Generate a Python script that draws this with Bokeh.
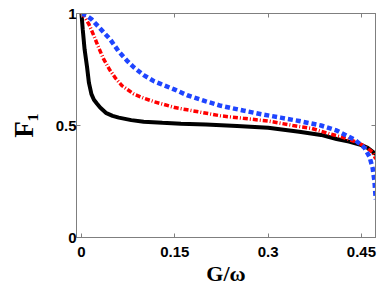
from bokeh.plotting import figure
from bokeh.models import Range1d, LinearAxis, FixedTicker
from bokeh.embed import file_html
from bokeh.resources import INLINE

# ---- data ----
x_black = [0, 0.002, 0.005, 0.009, 0.012, 0.016, 0.02, 0.025, 0.03, 0.04, 0.05, 0.06, 0.08, 0.1,
           0.13, 0.16, 0.2, 0.25, 0.3, 0.35, 0.385, 0.41, 0.43, 0.45, 0.46, 0.473]
y_black = [1.0, 0.93, 0.84, 0.76, 0.69, 0.64, 0.615, 0.597, 0.58, 0.555, 0.543, 0.535, 0.524, 0.517,
           0.512, 0.508, 0.504, 0.498, 0.49, 0.472, 0.458, 0.44, 0.428, 0.413, 0.4, 0.372]

x_red = [0, 0.005, 0.012, 0.02, 0.028, 0.035, 0.045, 0.055, 0.065, 0.084, 0.1, 0.117, 0.15, 0.17,
         0.19, 0.224, 0.26, 0.3, 0.34, 0.37, 0.396, 0.42, 0.44, 0.45, 0.46, 0.468, 0.473]
y_red = [1.0, 0.985, 0.952, 0.9, 0.845, 0.8, 0.75, 0.71, 0.678, 0.641, 0.622, 0.606, 0.58, 0.57,
         0.56, 0.543, 0.532, 0.52, 0.5, 0.487, 0.465, 0.447, 0.428, 0.415, 0.398, 0.38, 0.35]

x_blue = [0, 0.008, 0.016, 0.025, 0.035, 0.046, 0.06, 0.073, 0.084, 0.1, 0.117, 0.127, 0.15, 0.17,
          0.2, 0.224, 0.26, 0.29, 0.32, 0.35, 0.385, 0.41, 0.426, 0.44, 0.455, 0.463, 0.468, 0.471,
          0.473]
y_blue = [1.0, 0.99, 0.975, 0.948, 0.918, 0.885, 0.83, 0.79, 0.76, 0.725, 0.697, 0.686, 0.66, 0.635,
          0.608, 0.588, 0.567, 0.55, 0.535, 0.52, 0.5, 0.478, 0.455, 0.435, 0.4, 0.36, 0.31, 0.25,
          0.17]

x_ticks = [0, 0.15, 0.3, 0.45]
x_tick_labels = ["0", "0.15", "0.3", "0.45"]
y_ticks = [0, 0.5, 1]
y_tick_labels = ["0", "0.5", "1"]

FRAME = "#7f7f7f"

p = figure(frame_width=299, frame_height=224, output_backend="svg", toolbar_location=None,
           x_range=Range1d(-0.008, 0.4726), y_range=Range1d(0, 1),
           min_border_left=76, min_border_right=7, min_border_top=13, min_border_bottom=52,
           x_axis_type=None, y_axis_type=None)
p.grid.visible = False
p.outline_line_color = FRAME
p.outline_line_width = 1
p.background_fill_color = "white"
p.border_fill_color = "white"


def make_axis(ticks, labels, show):
    ax = LinearAxis(ticker=FixedTicker(ticks=ticks))
    ax.axis_line_color = FRAME
    ax.major_tick_line_color = FRAME
    ax.major_tick_in = 4
    ax.major_tick_out = 0
    ax.minor_tick_line_color = None
    if show:
        ax.major_label_overrides = {t: l for t, l in zip(ticks, labels)}
        ax.major_label_text_font = "Liberation Sans"
        ax.major_label_text_font_style = "bold"
        ax.major_label_text_font_size = "15px"
        ax.major_label_text_color = "black"
        ax.axis_label_text_font = "Liberation Serif"
        ax.axis_label_text_font_style = "bold"
        ax.axis_label_text_color = "black"
    else:
        ax.major_label_overrides = {t: "" for t in ticks}
        ax.major_label_standoff = 0
    return ax


xb = make_axis(x_ticks, x_tick_labels, True)
xb.major_label_standoff = 9
xb.axis_label = "G/ω"
xb.axis_label_text_font_size = "22px"
xb.axis_label_standoff = 1
p.add_layout(xb, "below")

yl = make_axis(y_ticks, y_tick_labels, True)
yl.major_label_standoff = 0
yl.axis_label = "F₁"
yl.axis_label_text_font_size = "27px"
yl.axis_label_standoff = 14
p.add_layout(yl, "left")

p.add_layout(make_axis(x_ticks, x_tick_labels, False), "above")
p.add_layout(make_axis(y_ticks, y_tick_labels, False), "right")

p.line(x_black, y_black, line_color="black", line_width=4)
p.line(x_red, y_red, line_color="#ff0000", line_width=3.5, line_dash="5 2 1 2")
p.line(x_blue, y_blue, line_color="#1f45ff", line_width=4.5, line_dash="5 3")

open("out.html", "w").write(file_html(p, INLINE))
